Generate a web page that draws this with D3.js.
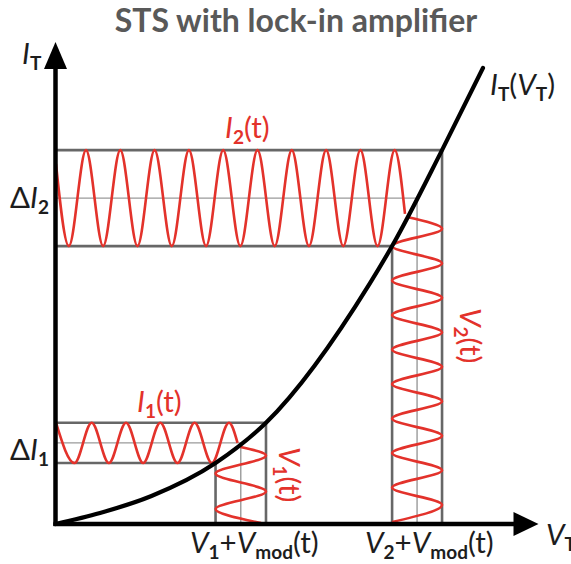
<!DOCTYPE html>
<html>
<head>
<meta charset="utf-8">
<script src="https://cdn.jsdelivr.net/npm/d3@7"></script>
<style>
  body { margin: 0; background: #fff; }
  svg { display: block; }
</style>
</head>
<body>
<script>
'use strict';

// I-V curve of the tunnel junction (arbitrary units)
const curveV = [0, 0.918, 1.979, 3.30, 4.34, 6.485, 6.94, 7.97, 8.814];
const curveI = [0, 0.229, 0.583, 1.27, 2.11, 5.02, 5.79, 7.79, 9.50];

// the two modulation windows (V1 and V2)
const vLow  = [3.30, 6.94];
const vMid  = [3.82, 7.455];
const vHigh = [4.34, 7.97];
const iLow  = [1.27, 5.79];
const iMid  = [1.69, 6.79];
const iHigh = [2.11, 7.79];

// I1(t): extrema of the current response at V1
const i1WaveV = [0.01, 0.392, 0.746, 1.101, 1.454, 1.808, 2.161, 2.515, 2.868, 3.223, 3.577, 3.753];
const i1WaveI = [2.11, 1.27, 2.11, 1.27, 2.11, 1.27, 2.11, 1.27, 2.11, 1.27, 2.11, 1.69];

// I2(t): extrema of the current response at V2
const i2WaveV = [0.01, 0.275, 0.629, 0.982, 1.336, 1.690, 2.043, 2.397, 2.751, 3.104, 3.458,
                 3.811, 4.165, 4.519, 4.872, 5.226, 5.580, 5.933, 6.287, 6.640, 6.994, 7.206];
const i2WaveI = [7.50, 5.79, 7.79, 5.79, 7.79, 5.79, 7.79, 5.79, 7.79, 5.79, 7.79,
                 5.79, 7.79, 5.79, 7.79, 5.79, 7.79, 5.79, 7.79, 5.79, 7.79, 6.46];

// V1(t): modulation around V1 (time runs downwards)
const v1WaveI = [1.604, 1.427, 1.052, 0.677, 0.3125, 0.021];
const v1WaveV = [3.814, 4.34, 3.30, 4.34, 3.30, 4.237];

// V2(t): modulation around V2
const v2WaveI = [6.396, 6.151, 5.792, 5.432, 5.073, 4.714, 4.354, 3.995, 3.635, 3.276,
                 2.917, 2.557, 2.198, 1.839, 1.479, 1.120, 0.760, 0.401, 0.042];
const v2WaveV = [7.247, 7.97, 6.94, 7.97, 6.94, 7.97, 6.94, 7.97, 6.94, 7.97,
                 6.94, 7.97, 6.94, 7.97, 6.94, 7.97, 6.94, 7.97, 6.94];

const titleText = 'STS with lock-in amplifier';

const width = 571, height = 564;
const red = '#e3322b';
const ink = '#1d1d1d';

const svg = d3.select('body').append('svg')
  .attr('width', width)
  .attr('height', height);

const x = d3.scaleLinear().domain([0, 10]).range([55.5, 540.5]);
const y = d3.scaleLinear().domain([0, 10]).range([524, 44]);

// title
svg.append('text')
  .attr('x', 296)
  .attr('y', 32)
  .attr('text-anchor', 'middle')
  .style('font-family', 'Lato, sans-serif')
  .style('font-weight', 700)
  .style('font-size', '32px')
  .attr('fill', '#595959')
  .text(titleText);

// guide lines of the two windows
const guides = svg.append('g');
vLow.forEach((v, k) => {
  const dark = [
    [0, iHigh[k], vHigh[k], iHigh[k]],
    [0, iLow[k], vLow[k], iLow[k]],
    [vLow[k], 0, vLow[k], iLow[k]],
    [vHigh[k], 0, vHigh[k], iHigh[k]]
  ];
  const light = [
    [0, iMid[k], vMid[k], iMid[k]],
    [vMid[k], 0, vMid[k], iMid[k]]
  ];
  light.forEach(s => guides.append('line')
    .attr('x1', x(s[0])).attr('y1', y(s[1]))
    .attr('x2', x(s[2])).attr('y2', y(s[3]))
    .attr('stroke', '#9a9a9a').attr('stroke-width', 1.4));
  dark.forEach(s => guides.append('line')
    .attr('x1', x(s[0])).attr('y1', y(s[1]))
    .attr('x2', x(s[2])).attr('y2', y(s[3]))
    .attr('stroke', '#676767').attr('stroke-width', 2.6));
});

// modulation waves
const lineX = d3.line().x(d => x(d[0])).y(d => y(d[1])).curve(d3.curveMonotoneX);
const lineY = d3.line().x(d => x(d[0])).y(d => y(d[1])).curve(d3.curveMonotoneY);

const waves = [
  [d3.zip(i1WaveV, i1WaveI), lineX],
  [d3.zip(i2WaveV, i2WaveI), lineX],
  [d3.zip(v1WaveV, v1WaveI), lineY],
  [d3.zip(v2WaveV, v2WaveI), lineY]
];
waves.forEach(w => svg.append('path')
  .attr('d', w[1](w[0]))
  .attr('fill', 'none')
  .attr('stroke', red)
  .attr('stroke-width', 2.6));

// I-V curve
svg.append('path')
  .attr('d', d3.line().x(d => x(d[0])).y(d => y(d[1])).curve(d3.curveMonotoneX)(d3.zip(curveV, curveI)))
  .attr('fill', 'none')
  .attr('stroke', '#000')
  .attr('stroke-width', 4.2)
  .attr('stroke-linecap', 'round');

// axes with arrow heads
const axisG = svg.append('g');
axisG.append('line')
  .attr('x1', x(0)).attr('y1', y(0) + 2)
  .attr('x2', x(0)).attr('y2', y(10) + 22)
  .attr('stroke', '#000').attr('stroke-width', 4.5);
axisG.append('line')
  .attr('x1', x(0) - 2).attr('y1', y(0))
  .attr('x2', x(10) - 22).attr('y2', y(0))
  .attr('stroke', '#000').attr('stroke-width', 4.5);
axisG.append('path')
  .attr('d', `M${x(0)},${y(10) - 2} L${x(0) + 11.5},${y(10) + 25} L${x(0) - 11.5},${y(10) + 25} Z`)
  .attr('fill', '#000');
axisG.append('path')
  .attr('d', `M${x(10) - 2},${y(0)} L${x(10) - 27},${y(0) - 12} L${x(10) - 27},${y(0) + 12} Z`)
  .attr('fill', '#000');

// labels with italic letters and subscripts
function addLabel(px, py, parts, color, turned) {
  const t = svg.append('text')
    .attr('transform', `translate(${px},${py})` + (turned ? ' rotate(90)' : ''))
    .attr('fill', color)
    .style('font-family', 'Lato, sans-serif')
    .style('font-size', '29.5px');
  let shift = 0;
  parts.forEach(p => {
    const ts = t.append('tspan').text(p[0]);
    const want = p[1] === 's' ? 6 : 0;
    if (want !== shift) ts.attr('dy', want - shift);
    shift = want;
    if (p[1] === 's') ts.style('font-size', '19px').style('font-weight', 700);
    if (p[1] === 'i') ts.style('font-style', 'italic');
  });
}

addLabel(22, 64, [['I', 'i'], ['T', 's']], ink);
addLabel(490, 95, [['I', 'i'], ['T', 's'], ['(', ''], ['V', 'i'], ['T', 's'], [')', '']], ink);
addLabel(10, 208, [['Δ', ''], ['I', 'i'], ['2', 's']], ink);
addLabel(10, 460, [['Δ', ''], ['I', 'i'], ['1', 's']], ink);
addLabel(225, 138, [['I', 'i'], ['2', 's'], ['(t)', '']], red);
addLabel(137, 412, [['I', 'i'], ['1', 's'], ['(t)', '']], red);
addLabel(279, 447, [['V', 'i'], ['1', 's'], ['(t)', '']], red, true);
addLabel(460, 308, [['V', 'i'], ['2', 's'], ['(t)', '']], red, true);
addLabel(190, 553, [['V', 'i'], ['1', 's'], ['+', ''], ['V', 'i'], ['mod', 's'], ['(t)', '']], ink);
addLabel(365, 553, [['V', 'i'], ['2', 's'], ['+', ''], ['V', 'i'], ['mod', 's'], ['(t)', '']], ink);
addLabel(546, 545, [['V', 'i'], ['T', 's']], ink);
</script>
</body>
</html>
